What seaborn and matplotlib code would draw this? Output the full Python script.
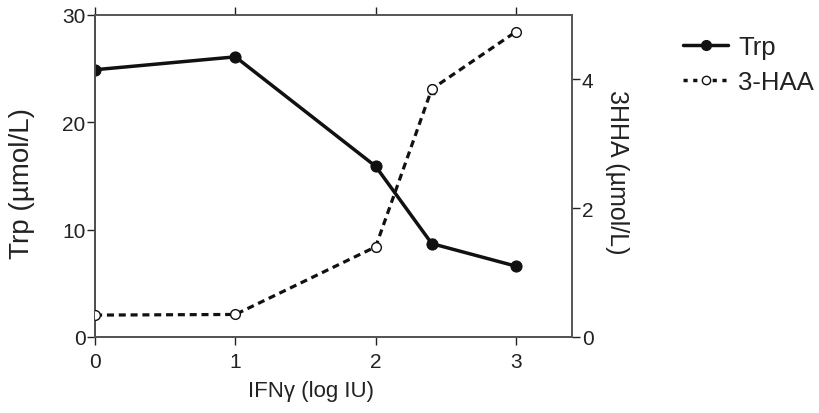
import matplotlib
matplotlib.use("Agg")
import matplotlib.pyplot as plt
import seaborn as sns
import pandas as pd
from matplotlib.lines import Line2D

ifn = [0, 1, 2, 2.4, 3]
trp = [24.9, 26.1, 15.9, 8.7, 6.6]
trp_err = [0.3, 0.3, 0.3, 0.4, 0.3]
haa = [0.34, 0.35, 1.40, 3.85, 4.74]
haa_err = [0.03, 0.03, 0.06, 0.07, 0.05]
xticks = [0, 1, 2, 3]
left_ticks = [0, 10, 20, 30]
right_ticks = [0, 2, 4]

sns.set_theme(style="ticks")
plt.rcParams['font.family'] = ['Liberation Sans', 'DejaVu Sans']

df_trp = pd.DataFrame({"x": ifn, "y": trp})
df_haa = pd.DataFrame({"x": ifn, "y": haa})

fig = plt.figure(figsize=(8.2, 4.14), dpi=100)
ax = fig.add_axes([0.116, 0.1836, 0.5816, 0.7778])
ax2 = ax.twinx()

sns.lineplot(data=df_trp, x="x", y="y", ax=ax, color="#111111", linewidth=2.5,
             marker="o", markersize=8, markerfacecolor="#111111",
             markeredgecolor="#111111", zorder=3, legend=False)
ax.errorbar(ifn, trp, yerr=trp_err, fmt="none", ecolor="#111111", capsize=2, lw=1)

sns.lineplot(data=df_haa, x="x", y="y", ax=ax2, color="#111111", linewidth=2.3,
             linestyle=(0, (2.2, 1.5)), marker="o", markersize=7,
             markerfacecolor="white", markeredgecolor="#111111",
             markeredgewidth=1.0, zorder=3, legend=False)
ax2.errorbar(ifn, haa, yerr=haa_err, fmt="none", ecolor="#111111", capsize=2, lw=1)

ax.set_xlim(0, 3.4)
ax.set_ylim(0, 30)
ax2.set_ylim(0, 5)
ax.set_xticks(xticks)
ax.set_yticks(left_ticks)
ax2.set_yticks(right_ticks)

ax.set_xlabel("IFNγ (log IU)", fontsize=16, color="#222222")
ax.xaxis.set_label_coords(0.453, -0.165)
ax.xaxis.label.set_va("center")
ax.set_ylabel("Trp (µmol/L)", fontsize=20, color="#222222")
ax.yaxis.set_label_coords(-0.153, 0.481)
ax.yaxis.label.set_va("center")
ax2.set_ylabel("3HHA (µmol/L)", fontsize=18, rotation=-90, color="#222222")
ax2.yaxis.set_label_coords(1.094, 0.516)
ax2.yaxis.label.set_va("center")

for a in (ax, ax2):
    a.tick_params(direction="out", length=6, width=1, labelsize=15, colors="#222222")
    for s in a.spines.values():
        s.set_visible(True)
        s.set_linewidth(1.2)
        s.set_color("#555555")
ax.spines["left"].set_color("#111111")
ax.spines["bottom"].set_color("#333333")
ax.tick_params(axis="x", top=True, pad=5)
ax.tick_params(axis="y", pad=1)
ax2.tick_params(axis="y", pad=1)

handles = [
    Line2D([0], [0], color="#111111", lw=2.5, marker="o", markersize=7,
           markerfacecolor="#111111"),
    Line2D([0], [0], color="#111111", lw=2.5, linestyle=(0, (1.2, 1.6)), marker="o",
           markersize=6, markerfacecolor="white", markeredgewidth=1.0),
]
fig.legend(handles, ["Trp", "3-HAA"], loc="upper left", bbox_to_anchor=(0.805, 0.97),
           frameon=False, fontsize=18.5, handlelength=1.75, labelspacing=0.45,
           handletextpad=0.4, labelcolor="#222222")

fig.savefig("out.png", dpi=100)
